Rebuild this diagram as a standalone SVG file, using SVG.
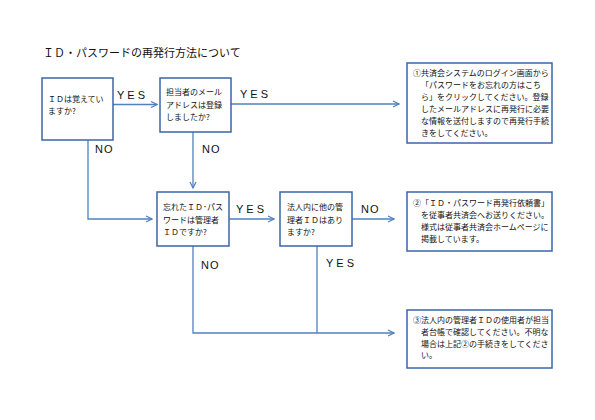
<svg xmlns="http://www.w3.org/2000/svg" width="595" height="420" viewBox="0 0 595 420">
<defs>
<marker id="arr" viewBox="0 0 8 8" refX="7" refY="4" markerWidth="8" markerHeight="8" markerUnits="userSpaceOnUse" orient="auto">
<path d="M1,1 L7,4 L1,7" fill="none" stroke="#4F81BD" stroke-width="1.2"/>
</marker>
<style>
.box{fill:#fff;stroke:#3A66A7;stroke-width:1.5}
.t{font-family:"Noto Sans CJK JP","Noto Sans",sans-serif;font-size:8px;fill:#111}
.title{font-family:"Noto Sans CJK JP","Noto Sans",sans-serif;font-size:11px;fill:#111}
.lbl{font-family:"Liberation Sans",Arial,sans-serif;font-size:11px;fill:#111}
.ls{letter-spacing:3px}
.c{fill:none;stroke:#4F81BD;stroke-width:1.3}
</style>
</defs>
<rect width="595" height="420" fill="#fff"/>
<text class="title" x="43" y="57">ＩＤ・パスワードの再発行方法について</text>

<g id="connectors">
<path class="c" d="M113,104.5 H157" marker-end="url(#arr)"/>
<path class="c" d="M231,104 H399" marker-end="url(#arr)"/>
<path class="c" d="M88,140 V219 H152" marker-end="url(#arr)"/>
<path class="c" d="M193,132 V188" marker-end="url(#arr)"/>
<path class="c" d="M229,219 H274" marker-end="url(#arr)"/>
<path class="c" d="M352,219 H394" marker-end="url(#arr)"/>
<path class="c" d="M193,246 V333 H394" marker-end="url(#arr)"/>
<path class="c" d="M317,246 V333"/>
<text class="lbl ls" x="117" y="99">YES</text>
<text class="lbl ls" x="240" y="98">YES</text>
<text class="lbl" x="95" y="153" letter-spacing="1">NO</text>
<text class="lbl" x="202" y="153" letter-spacing="1">NO</text>
<text class="lbl ls" x="236" y="213">YES</text>
<text class="lbl" x="361" y="213" letter-spacing="1">NO</text>
<text class="lbl" x="201" y="269" letter-spacing="1">NO</text>
<text class="lbl ls" x="326" y="267">YES</text>
</g>

<g id="n1">
<rect class="box" x="42" y="78" width="71" height="62"/>
<text class="t" x="48" y="102">ＩＤは覚えてい</text>
<text class="t" x="48" y="114">ますか?</text>
</g>

<g id="n2">
<rect class="box" x="160" y="78" width="71" height="54"/>
<text class="t" x="166" y="95">担当者のメール</text>
<text class="t" x="166" y="107.5">アドレスは登録</text>
<text class="t" x="166" y="120">しましたか?</text>
</g>

<g id="n3">
<rect class="box" x="407" y="63" width="145" height="80"/>
<text class="t" x="413" y="76">①共済会システムのログイン画面から</text>
<text class="t" x="421" y="88">「パスワードをお忘れの方はこち</text>
<text class="t" x="421" y="100">ら」をクリックしてください。登録</text>
<text class="t" x="421" y="112">したメールアドレスに再発行に必要</text>
<text class="t" x="421" y="124">な情報を送付しますので再発行手続</text>
<text class="t" x="421" y="136">きをしてください。</text>
</g>

<g id="n4">
<rect class="box" x="157" y="192" width="72" height="54"/>
<text class="t" x="163" y="210">忘れたＩＤ･パス</text>
<text class="t" x="163" y="222.5">ワードは管理者</text>
<text class="t" x="163" y="235">ＩＤですか?</text>
</g>

<g id="n5">
<rect class="box" x="280" y="192" width="72" height="54"/>
<text class="t" x="287" y="210">法人内に他の管</text>
<text class="t" x="287" y="222.5">理者ＩＤはあり</text>
<text class="t" x="287" y="235">ますか?</text>
</g>

<g id="n6">
<rect class="box" x="407" y="192" width="145" height="59"/>
<text class="t" x="413" y="206">②「ＩＤ・パスワード再発行依頼書」</text>
<text class="t" x="421" y="218">を従事者共済会へお送りください。</text>
<text class="t" x="421" y="230">様式は従事者共済会ホームページに</text>
<text class="t" x="421" y="241.5">掲載しています。</text>
</g>

<g id="n7">
<rect class="box" x="407" y="310" width="145" height="58"/>
<text class="t" x="413" y="323">③法人内の管理者ＩＤの使用者が担当</text>
<text class="t" x="421" y="335">者台帳で確認してください。不明な</text>
<text class="t" x="421" y="346.5">場合は上記②の手続きをしてくださ</text>
<text class="t" x="421" y="358">い。</text>
</g>
</svg>
